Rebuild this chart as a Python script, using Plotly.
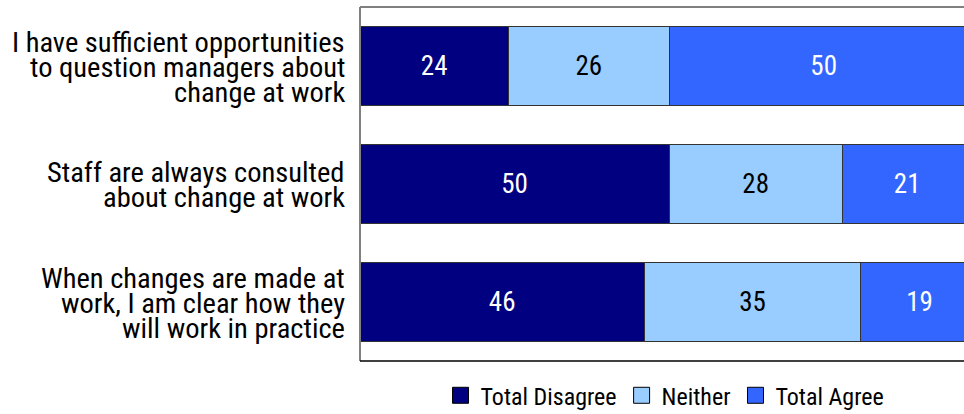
import plotly.graph_objects as go

categories = [
    "I have sufficient opportunities<br>to question managers about<br>change at work",
    "Staff are always consulted<br>about change at work",
    "When changes are made at<br>work, I am clear how they<br>will work in practice",
]
series_names = ["Total Disagree", "Neither", "Total Agree"]
disagree = [24, 50, 46]
neither = [26, 28, 35]
agree = [50, 21, 19]
colors = ["#000080", "#99CCFF", "#3366FF"]
text_colors = ["white", "black", "white"]

FONT = "Roboto Condensed, Liberation Sans Narrow, sans-serif"

fig = go.Figure()
for name, vals, col, tc in zip(series_names, [disagree, neither, agree], colors, text_colors):
    fig.add_trace(go.Bar(
        y=categories, x=vals, name=name, orientation="h",
        marker=dict(color=col, line=dict(color="#333333", width=1)),
        text=[str(v) for v in vals], textposition="inside",
        insidetextanchor="middle",
        textfont=dict(family=FONT, size=27, color=tc),
        width=0.67, showlegend=False, hoverinfo="skip",
    ))
# legend swatches (square markers like the reference)
for name, col in zip(series_names, colors):
    fig.add_trace(go.Scatter(
        x=[None], y=[None], mode="markers", name=name,
        marker=dict(symbol="square", size=16, color=col,
                    line=dict(color="black", width=1)),
    ))

annotations = []
line_h = 25
for cat in categories:
    lines = cat.split("<br>")
    n = len(lines)
    for i, ln in enumerate(lines):
        annotations.append(dict(
            xref="paper", x=0, xanchor="right", xshift=-13,
            yref="y", y=cat, yanchor="middle",
            yshift=-(i - (n - 1) / 2) * line_h - 1,
            text=ln, showarrow=False,
            font=dict(family=FONT, size=28.5, color="black"),
        ))

shapes = [
    dict(type="line", xref="paper", yref="paper", x0=0, x1=0, y0=0, y1=1,
         line=dict(color="#808080", width=2)),
    dict(type="line", xref="paper", yref="paper", x0=0, x1=1, y0=1, y1=1,
         line=dict(color="#808080", width=2)),
    dict(type="line", xref="paper", yref="paper", x0=0, x1=1, y0=0, y1=0,
         line=dict(color="black", width=1.5)),
]

fig.update_layout(
    width=964, height=414,
    margin=dict(l=360, r=0, t=7, b=53, autoexpand=False),
    barmode="stack",
    plot_bgcolor="white", paper_bgcolor="white",
    font=dict(family=FONT, color="black"),
    xaxis=dict(range=[0, 97.7], showgrid=False, showticklabels=False,
               zeroline=False, showline=False, ticks="", fixedrange=True),
    yaxis=dict(categoryorder="array", categoryarray=categories,
               range=[2.5, -0.5], showticklabels=False, showgrid=False,
               zeroline=False, ticks="", fixedrange=True),
    legend=dict(orientation="h", x=0.505, xanchor="center", y=-0.098, yanchor="middle",
                font=dict(family=FONT, size=24, color="black"),
                traceorder="normal", itemwidth=30),
    annotations=annotations,
    shapes=shapes,
    showlegend=True,
)

fig.write_html("out.html", config={"displayModeBar": False},
               post_script="document.body.style.margin='0';document.body.style.overflow='hidden';")
